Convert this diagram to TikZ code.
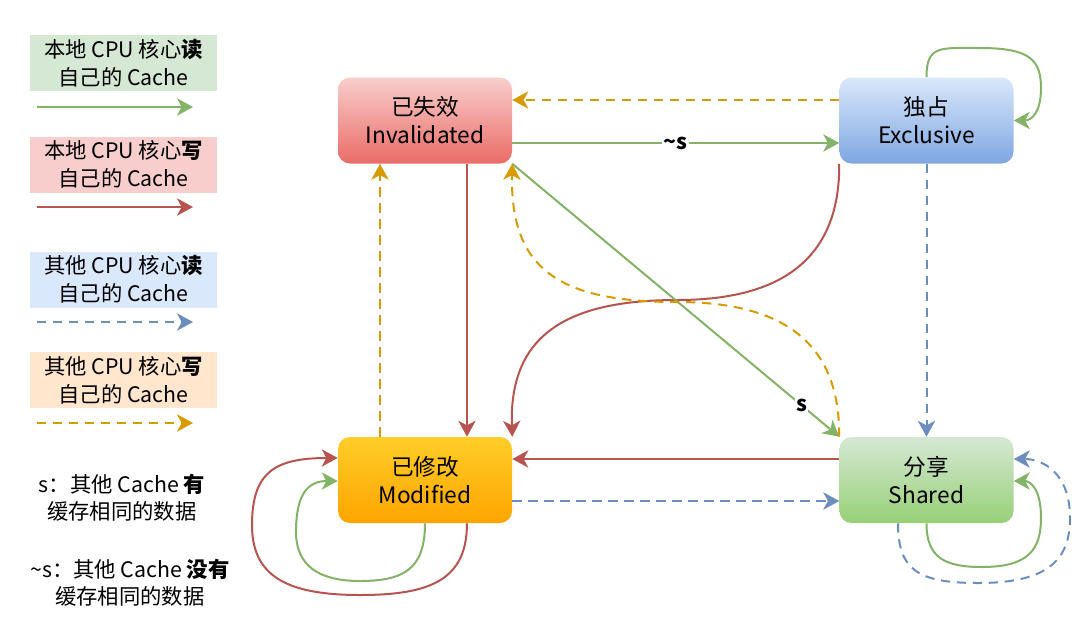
\documentclass[tikz,border=0pt]{standalone}
\usepackage{fontspec}
\setmainfont{Noto Sans CJK SC}
\usetikzlibrary{arrows.meta,calc}

\definecolor{cgreen}{HTML}{82B366}
\definecolor{cred}{HTML}{B85450}
\definecolor{cblue}{HTML}{6C8EBF}
\definecolor{corange}{HTML}{D79B00}
\definecolor{invtop}{HTML}{F8CECC}
\definecolor{invbot}{HTML}{EA6B66}
\definecolor{exctop}{HTML}{DAE8FC}
\definecolor{excbot}{HTML}{7EA6E0}
\definecolor{modtop}{HTML}{FFCD28}
\definecolor{modbot}{HTML}{FFA500}
\definecolor{shatop}{HTML}{D5E8D4}
\definecolor{shabot}{HTML}{97D077}
\definecolor{peach}{HTML}{FFE6CC}

\tikzset{
  >={Stealth[length=12pt,width=13pt,inset=3.5pt]},
  state/.style={rounded corners=9pt, minimum width=130.5pt, minimum height=64.5pt,
    align=center, inner sep=0pt, font=\fontsize{17pt}{21pt}\selectfont},
  legendbox/.style={minimum width=140pt, minimum height=42pt, align=center,
    inner sep=0pt, font=\fontsize{16pt}{21pt}\selectfont},
  note/.style={align=center, font=\fontsize{16pt}{20pt}\selectfont},
  conn/.style={line width=1.5pt, ->},
  dashedline/.style={dash pattern=on 7pt off 5pt},
  rdconn/.style={conn, draw=cgreen},
  wrconn/.style={conn, draw=cred},
  ordconn/.style={conn, draw=cblue, dashedline},
  owrconn/.style={conn, draw=corange, dashedline},
  cond/.style={fill=white, inner sep=1pt, font=\bfseries\fontsize{16pt}{16pt}\selectfont},
}

\begin{document}
\begin{tikzpicture}[x=0.75pt,y=-0.75pt]
\useasboundingbox (0,0) rectangle (1086,633);

% legend
\node[legendbox, fill=shatop] (lg1) at (123.5,63) {本地 CPU 核心\textbf{读}\\自己的 Cache};
\coordinate (lg1a) at (37,107);
\coordinate (lg1b) at (193,107);
\draw[rdconn] (lg1a) -- (lg1b);

\node[legendbox, fill=invtop] (lg2) at (123.5,164.5) {本地 CPU 核心\textbf{写}\\自己的 Cache};
\coordinate (lg2a) at (37,207);
\coordinate (lg2b) at (193,207);
\draw[wrconn] (lg2a) -- (lg2b);

\node[legendbox, fill=exctop] (lg3) at (123.5,279.5) {其他 CPU 核心\textbf{读}\\自己的 Cache};
\coordinate (lg3a) at (37,322);
\coordinate (lg3b) at (193,322);
\draw[ordconn] (lg3a) -- (lg3b);

\node[legendbox, fill=peach] (lg4) at (123.5,380) {其他 CPU 核心\textbf{写}\\自己的 Cache};
\coordinate (lg4a) at (37,423);
\coordinate (lg4b) at (193,423);
\draw[owrconn] (lg4a) -- (lg4b);

\node[note] (n1) at (122,497.5) {s：其他 Cache \textbf{有}\\缓存相同的数据};
\node[note] (n2) at (130,582.5) {\textasciitilde s：其他 Cache \textbf{没有}\\缓存相同的数据};

% cache line states
\node[state, top color=invtop, bottom color=invbot] (inv) at (425,120.5) {已失效\\Invalidated};
\node[state, top color=exctop, bottom color=excbot] (exc) at (926.5,120.5) {独占\\Exclusive};
\node[state, top color=modtop, bottom color=modbot] (mod) at (425,480) {已修改\\Modified};
\node[state, top color=shatop, bottom color=shabot] (sha) at (926.5,480) {分享\\Shared};

% Invalidated <-> Exclusive
\draw[rdconn] ($(inv.east)+(0,22.5)$) -- node[cond] {\textasciitilde s} ($(exc.west)+(0,22.5)$);
\draw[owrconn] ($(exc.west)+(0,-20.5)$) -- ($(inv.east)+(0,-20.5)$);

% Exclusive self loop
\draw[rdconn] (exc.north) .. controls (926.5,45) and (940,48) .. (980,48)
  .. controls (1030,48) and (1041,60) .. (1041,88)
  .. controls (1041,112) and (1032,120.5) .. (exc.east);

% Exclusive -> Shared
\draw[ordconn] (exc.south) -- (sha.north);

% Exclusive -> Modified
\draw[wrconn] (exc.south west) .. controls (840,260) and (780,300) .. (677,300)
  .. controls (560,300) and (509,340) .. (mod.north east);

% Invalidated -> Shared
\draw[rdconn] (inv.south east) -- node[cond, pos=0.885] {s} (sha.north west);

% Shared -> Invalidated
\draw[owrconn] (sha.north west) .. controls (840,340) and (780,302) .. (677,302)
  .. controls (560,302) and (510,270) .. (inv.south east);

% Invalidated <-> Modified
\draw[wrconn] ($(inv.south)+(42,0)$) -- ($(mod.north)+(42,0)$);
\draw[owrconn] ($(mod.north)+(-45,0)$) -- ($(inv.south)+(-45,0)$);

% Modified <-> Shared
\draw[wrconn] ($(sha.west)+(0,-21)$) -- ($(mod.east)+(0,-21)$);
\draw[ordconn] ($(mod.east)+(0,21)$) -- ($(sha.west)+(0,21)$);

% Modified self loops
\draw[wrconn] ($(mod.south)+(42,0)$) .. controls (467,580) and (430,595) .. (360,595)
  .. controls (285,595) and (252,575) .. (252,525)
  .. controls (252,472) and (275,458) .. ($(mod.west)+(0,-22)$);
\draw[rdconn] (mod.south) .. controls (425,568) and (405,581) .. (360,581)
  .. controls (318,581) and (296,565) .. (296,532)
  .. controls (296,494) and (308,481) .. ($(mod.west)+(0,1)$);

% Shared self loops
\draw[rdconn] (sha.south) .. controls (926.5,558) and (945,567) .. (982,567)
  .. controls (1028,567) and (1041,550) .. (1041,518)
  .. controls (1041,488) and (1030,481) .. ($(sha.east)+(0,1)$);
\draw[ordconn] ($(sha.south)+(-28.5,0)$) .. controls (898,570) and (918,583) .. (978,583)
  .. controls (1048,583) and (1070,560) .. (1070,518)
  .. controls (1070,472) and (1042,459) .. ($(sha.east)+(0,-21)$);
\end{tikzpicture}
\end{document}
